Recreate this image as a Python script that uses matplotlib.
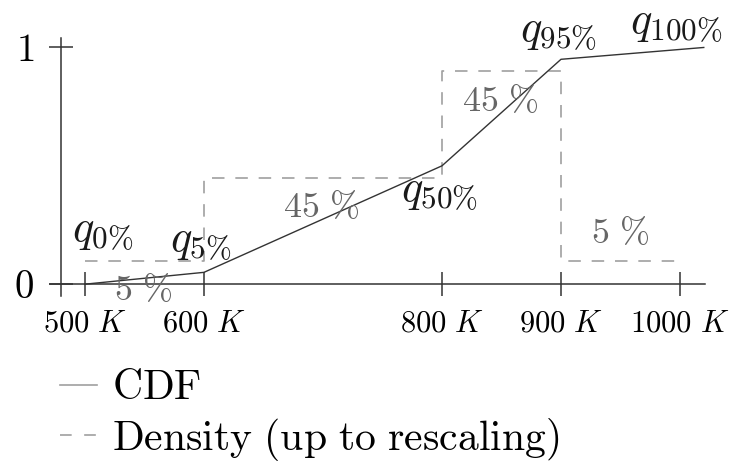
import matplotlib
matplotlib.use("Agg")
import matplotlib.pyplot as plt
from matplotlib.lines import Line2D

plt.rcParams["mathtext.fontset"] = "cm"
plt.rcParams["font.family"] = "serif"
plt.rcParams["font.serif"] = ["cmr10", "DejaVu Serif"]
plt.rcParams["axes.formatter.use_mathtext"] = True

# piecewise-linear CDF through the quantiles
cdf_x = [500, 600, 800, 900, 1020]
cdf_y = [0.0, 0.05, 0.5, 0.95, 1.0]

# step density (rescaled) between the quantiles
dens_x = [500, 600, 600, 800, 800, 900, 900, 1000]
dens_y = [0.1, 0.1, 0.45, 0.45, 0.9, 0.9, 0.1, 0.1]

x_ticks = [500, 600, 800, 900, 1000]
x_tick_labels = [r"$500\ K$", r"$600\ K$", r"$800\ K$", r"$900\ K$", r"$1000\ K$"]

# quantile labels: text, x, y
q_labels = [r"$q_{0\%}$", r"$q_{5\%}$", r"$q_{50\%}$", r"$q_{95\%}$", r"$q_{100\%}$"]
q_x = [515, 597, 798, 898, 997]
q_y = [0.216, 0.174, 0.386, 1.06, 1.097]

# mass in each interval
pct_labels = [r"$\mathrm{5\ \%}$", r"$\mathrm{45\ \%}$", r"$\mathrm{45\ \%}$", r"$\mathrm{5\ \%}$"]
pct_x = [549, 699, 849, 950]
pct_y = [-0.025, 0.322, 0.771, 0.216]

fig = plt.figure(figsize=(7.31, 4.68), dpi=100)
ax = fig.add_axes([0.069, 0.3675, 0.8954, 0.5513])

axis_col = "#333333"
ax.plot(dens_x, dens_y, color="#a0a0a0", lw=1.2, dashes=(7.5, 6.5), zorder=2)
ax.plot(cdf_x, cdf_y, color="#333333", lw=1.0, zorder=3)

ax.set_xlim(471, 1021)
ax.set_ylim(-0.05, 1.04)

for s in ["top", "right"]:
    ax.spines[s].set_visible(False)
ax.spines["bottom"].set_position(("data", 0))
ax.spines["left"].set_position(("data", 480))
for s in ["bottom", "left"]:
    ax.spines[s].set_color(axis_col)
    ax.spines[s].set_linewidth(1.1)

ax.set_xticks(x_ticks)
ax.set_xticklabels(x_tick_labels, fontsize=22)
ax.set_yticks([0, 1])
ax.set_yticklabels([r"$0$", r"$1$"], fontsize=28)
ax.tick_params(axis="x", direction="inout", length=17, width=1.1, color=axis_col, pad=10)
ax.tick_params(axis="y", direction="inout", length=17, width=1.1, color=axis_col, pad=11)

for t, x, y in zip(q_labels, q_x, q_y):
    ax.text(x, y, t, fontsize=32, ha="center", va="center", color="#1a1a1a")
for t, x, y in zip(pct_labels, pct_x, pct_y):
    ax.text(x, y, t, fontsize=26, ha="center", va="center", color="#666666")

handles = [Line2D([], [], color="#a0a0a0", lw=1.2),
           Line2D([], [], color="#a0a0a0", lw=1.2, dashes=(7, 7.5))]
fig.legend(handles, [r"$\mathrm{CDF}$", r"$\mathrm{Density\ (up\ to\ rescaling)}$"],
           loc="upper left", bbox_to_anchor=(0.082, 0.21), frameon=False,
           fontsize=30, handlelength=0.89, handletextpad=0.36, labelspacing=0.2,
           borderaxespad=0, borderpad=0)

fig.savefig("out.png", dpi=100)
